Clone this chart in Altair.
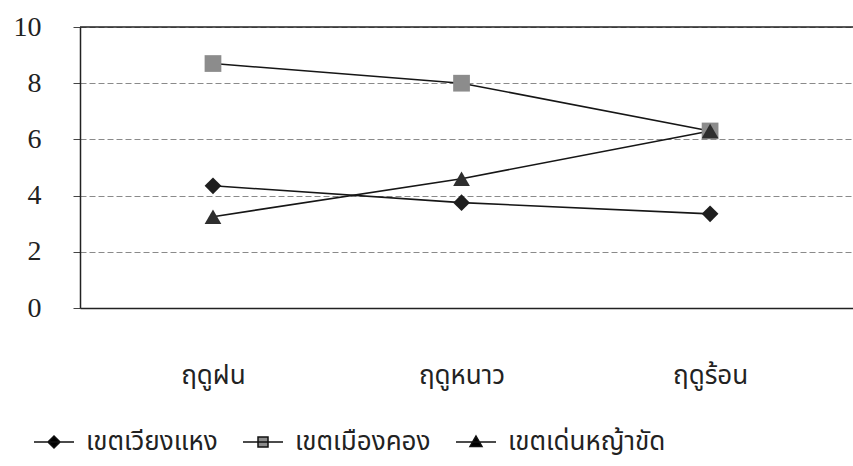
import altair as alt
import pandas as pd

# Seasons on the x axis and the three districts plotted as lines
seasons = ["ฤดูฝน", "ฤดูหนาว", "ฤดูร้อน"]
districts = ["เขตเวียงแหง", "เขตเมืองคอง", "เขตเด่นหญ้าขัด"]

wiang_haeng = [4.35, 3.75, 3.35]
mueang_khong = [8.7, 8.0, 6.3]
den_ya_khat = [3.25, 4.6, 6.3]

y_ticks = [0, 2, 4, 6, 8, 10]

series_values = [wiang_haeng, mueang_khong, den_ya_khat]
rows = []
for name, vals in zip(districts, series_values):
    for season, v in zip(seasons, vals):
        rows.append({"season": season, "district": name, "value": v})
df = pd.DataFrame(rows)

marker_shapes = ["diamond", "square", "triangle-up"]
marker_fills = ["#1e1e1e", "#8c8c8c", "#2e2e2e"]
legend_fills = ["#000000", "#8c8c8c", "#000000"]
# legend glyphs: a short line with the marker in the middle
legend_shapes = [
    "M-4,0H4M0,-1.2L1.2,0L0,1.2L-1.2,0Z",
    "M-4,0H4M-1,-1H1V1H-1Z",
    "M-4,0H4M0,-1.2L1.2,0.9H-1.2Z",
]

thai_font = "Noto Sans Thai, Loma, Garuda, Noto Sans, sans-serif"
serif_font = "Liberation Serif"

x_enc = alt.X(
    "season:N",
    sort=seasons,
    scale=alt.Scale(type="point", padding=0.555, align=0.482),
    axis=alt.Axis(
        title=None,
        labelFont=thai_font,
        labelFontSize=26,
        labelColor="#222",
        labelPadding=54,
        labelAngle=0,
        ticks=False,
        domainColor="#222",
        domainWidth=1.5,
        grid=False,
    ),
)
y_enc = alt.Y(
    "value:Q",
    scale=alt.Scale(domain=[0, 10], nice=False, zero=True),
    axis=alt.Axis(
        title=None,
        values=y_ticks,
        labelFont=serif_font,
        labelFontSize=28,
        labelColor="#222",
        labelPadding=32,
        tickSize=7,
        tickColor="#444",
        domainColor="#222",
        domainWidth=1.5,
        grid=True,
        gridColor="#8a8a8a",
        gridDash=[6, 3],
        gridWidth=1,
    ),
)

base = alt.Chart(df)

lines = base.mark_line(color="#161616", strokeWidth=1.6).encode(
    x=x_enc, y=y_enc, detail="district:N"
)

points = base.mark_point(filled=True, opacity=1, size=280).encode(
    x=x_enc,
    y=y_enc,
    shape=alt.Shape("district:N", sort=districts,
                    scale=alt.Scale(domain=districts, range=marker_shapes), legend=None),
    color=alt.Color("district:N", sort=districts,
                    scale=alt.Scale(domain=districts, range=marker_fills), legend=None),
)

top_line = alt.Chart(pd.DataFrame({"v": [10]})).mark_rule(
    color="#222", strokeWidth=1.5
).encode(y=alt.Y("v:Q", scale=alt.Scale(domain=[0, 10], nice=False)))

legend_opts = dict(
    title=None,
    orient="none",
    direction="horizontal",
    legendX=-39,
    legendY=402,
    labelFont=thai_font,
    labelFontSize=26,
    labelColor="#222",
    labelOffset=19,
    symbolSize=100,
    columnPadding=22,
    labelLimit=400,
)

# invisible layer that only feeds the legend
legend_layer = base.mark_point(
    filled=True, opacity=0, stroke="#111", strokeWidth=1.5
).encode(
    x=x_enc,
    y=y_enc,
    shape=alt.Shape(
        "district:N",
        sort=districts,
        scale=alt.Scale(domain=districts, range=legend_shapes),
        legend=alt.Legend(**legend_opts),
    ),
    color=alt.Color(
        "district:N",
        sort=districts,
        scale=alt.Scale(domain=districts, range=legend_fills),
        legend=alt.Legend(**legend_opts),
    ),
)

chart = (
    alt.layer(top_line, lines, points, legend_layer)
    .resolve_scale(shape="independent", color="independent")
    .properties(
        width=773,
        height=281,
        autosize=alt.AutoSizeParams(type="none"),
        padding={"left": 80, "top": 27, "right": 0, "bottom": 158},
        background="white",
    )
    .configure_view(stroke=None)
)

chart.save("out.html", embed_options={"renderer": "svg", "actions": False})
